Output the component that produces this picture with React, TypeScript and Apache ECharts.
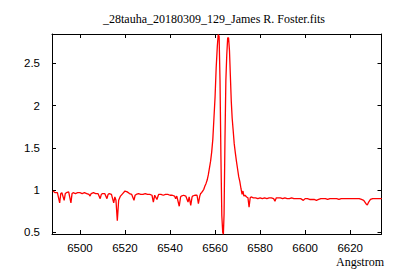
import React, { useEffect, useRef } from "react";
import * as echarts from "echarts";

const titleText = "_28tauha_20180309_129_James R. Foster.fits";
const xAxisName = "Angstrom";
const xTicks = [6500, 6520, 6540, 6560, 6580, 6600, 6620];
const yTicks = [0.5, 1, 1.5, 2, 2.5];

const wavelength = [
  6488, 6489, 6490, 6491, 6491.5, 6492, 6493, 6493.5, 6494, 6495, 6496, 6496.5, 6497, 6498, 6499,
  6500, 6501, 6502, 6503, 6504, 6504.5, 6505, 6506, 6507, 6508, 6509, 6509.5, 6510, 6511, 6512,
  6512.5, 6513, 6514, 6515, 6515.5, 6516, 6516.6, 6517.2, 6518, 6519, 6520, 6521, 6522, 6523, 6524,
  6524.5, 6525, 6526, 6527, 6528, 6529, 6530, 6531, 6532, 6532.6, 6533.2, 6534.2, 6534.8, 6535, 6536,
  6537, 6538, 6539, 6540, 6541, 6542, 6542.5, 6543, 6544.1, 6544.7, 6545, 6546, 6547, 6548, 6548.5,
  6549.2, 6549.8, 6550, 6551, 6552, 6552.6, 6553.2, 6553.6, 6554, 6554.5, 6555, 6555.5, 6556, 6556.5,
  6557, 6557.5, 6558, 6558.5, 6559, 6559.5, 6560, 6560.5, 6561, 6561.4, 6561.8, 6562.2, 6562.6, 6563,
  6563.4, 6563.7, 6564, 6564.4, 6564.8, 6565.2, 6565.6, 6566, 6566.4, 6566.8, 6567.2, 6567.6, 6568,
  6568.5, 6569, 6569.5, 6570, 6570.5, 6571, 6571.5, 6572, 6572.4, 6572.8, 6573.3, 6574, 6574.6, 6575.1,
  6575.6, 6576, 6577, 6578, 6579, 6580, 6581, 6582, 6583, 6584, 6585, 6586, 6586.6, 6587.2, 6588, 6589,
  6590, 6591, 6592, 6593, 6594, 6595, 6596, 6597, 6598, 6599.2, 6600, 6601, 6602, 6603, 6604, 6605,
  6606, 6607, 6608, 6609, 6610, 6611, 6612, 6613, 6614, 6615, 6616, 6617, 6618, 6619, 6620, 6621, 6622,
  6623, 6624, 6625, 6626, 6627, 6627.6, 6628.2, 6629, 6630, 6631, 6632, 6633, 6634,
];

const flux = [
  0.99, 0.97, 0.97, 0.85, 0.96, 0.97, 0.88, 0.96, 0.97, 0.98, 0.85, 0.96, 0.97, 0.96, 0.97,
  0.97, 0.96, 0.97, 0.96, 0.95, 0.93, 0.96, 0.97, 0.96, 0.96, 0.9, 0.95, 0.96, 0.96, 0.9,
  0.95, 0.96, 0.95, 0.85, 0.92, 0.88, 0.64, 0.88, 0.93, 0.96, 0.99, 0.98, 0.96, 0.95, 0.88,
  0.94, 0.95, 0.96, 0.95, 0.95, 0.96, 0.95, 0.95, 0.94, 0.86, 0.94, 0.89, 0.94, 0.95, 0.95,
  0.94, 0.95, 0.95, 0.94, 0.94, 0.93, 0.9, 0.93, 0.81, 0.92, 0.93, 0.94, 0.93, 0.86, 0.92,
  0.82, 0.92, 0.93, 0.94, 0.94, 0.84, 0.93, 0.96, 0.97, 0.99, 1.01, 1.05, 1.08, 1.12,
  1.18, 1.26, 1.34, 1.45, 1.6, 1.85, 2.1, 2.45, 2.7, 2.84, 2.82, 2.3, 1.4, 0.7,
  0.5, 0.48, 0.72, 1.6, 2.3, 2.6, 2.8, 2.8, 2.65, 2.35, 2.05, 1.85, 1.72,
  1.55, 1.44, 1.34, 1.25, 1.16, 1.1, 1.02, 0.95, 0.99, 0.93, 0.94, 0.92, 0.91, 0.8,
  0.91, 0.92, 0.91, 0.91, 0.9, 0.91, 0.9, 0.91, 0.9, 0.91, 0.91, 0.9, 0.87, 0.91, 0.91, 0.91,
  0.9, 0.91, 0.9, 0.9, 0.91, 0.9, 0.9, 0.9, 0.9, 0.88, 0.9, 0.9, 0.89, 0.89, 0.89, 0.88,
  0.89, 0.9, 0.9, 0.9, 0.89, 0.9, 0.9, 0.9, 0.9, 0.89, 0.9, 0.9, 0.9, 0.9, 0.9, 0.9, 0.9,
  0.9, 0.9, 0.89, 0.88, 0.84, 0.825, 0.86, 0.89, 0.9, 0.9, 0.9, 0.9, 0.9,
];

export default function App() {
  const ref = useRef<HTMLDivElement>(null);
  useEffect(() => {
    if (!ref.current) return;
    const chart = echarts.init(ref.current, null, { renderer: "svg" });
    const data = wavelength.map((w, i) => [w, flux[i]]);
    const axisLine = { show: true, lineStyle: { color: "#000", width: 1 } };
    const tick = (vals: number[]) => ({
      show: true,
      inside: true,
      length: 4,
      customValues: vals,
      lineStyle: { color: "#000", width: 1 },
    });
    const labelFont = { fontFamily: "Liberation Sans", fontSize: 11.5, color: "#000" };
    const plain = (v: number) => String(v);
    chart.setOption({
      animation: false,
      backgroundColor: "#fff",
      grid: { left: 52, top: 34, right: 18.5, bottom: 46, show: false },
      graphic: [
        {
          type: "text",
          x: 214,
          y: 18.5,
          style: {
            text: titleText,
            fontFamily: "Liberation Serif",
            fontSize: 12,
            fill: "#000",
            align: "center",
            verticalAlign: "middle",
          },
        },
        {
          type: "text",
          x: 384,
          y: 262,
          style: {
            text: xAxisName,
            fontFamily: "Liberation Serif",
            fontSize: 12,
            fill: "#000",
            align: "right",
            verticalAlign: "middle",
          },
        },
      ],
      xAxis: [
        {
          type: "value",
          min: 6487.6,
          max: 6633.9,
          axisLine,
          axisTick: tick(xTicks),
          axisLabel: { show: true, customValues: xTicks, margin: 8, formatter: plain, ...labelFont },
          splitLine: { show: false },
        },
        {
          type: "value",
          position: "top",
          min: 6487.6,
          max: 6633.9,
          axisLine,
          axisTick: tick(xTicks),
          axisLabel: { show: false },
          splitLine: { show: false },
        },
      ],
      yAxis: [
        {
          type: "value",
          min: 0.482,
          max: 2.846,
          axisLine,
          axisTick: tick(yTicks),
          axisLabel: { show: true, customValues: yTicks, margin: 12, formatter: plain, ...labelFont },
          splitLine: { show: false },
        },
        {
          type: "value",
          position: "right",
          min: 0.482,
          max: 2.846,
          axisLine,
          axisTick: tick(yTicks),
          axisLabel: { show: false },
          splitLine: { show: false },
        },
      ],
      series: [
        {
          type: "line",
          data,
          showSymbol: false,
          symbol: "none",
          clip: true,
          lineStyle: { color: "#ff0000", width: 1.3 },
          xAxisIndex: 0,
          yAxisIndex: 0,
        },
      ],
    });
    return () => chart.dispose();
  }, []);
  return (
    <div
      ref={ref}
      style={{ position: "fixed", left: 0, top: 0, width: 400, height: 280 }}
    />
  );
}
